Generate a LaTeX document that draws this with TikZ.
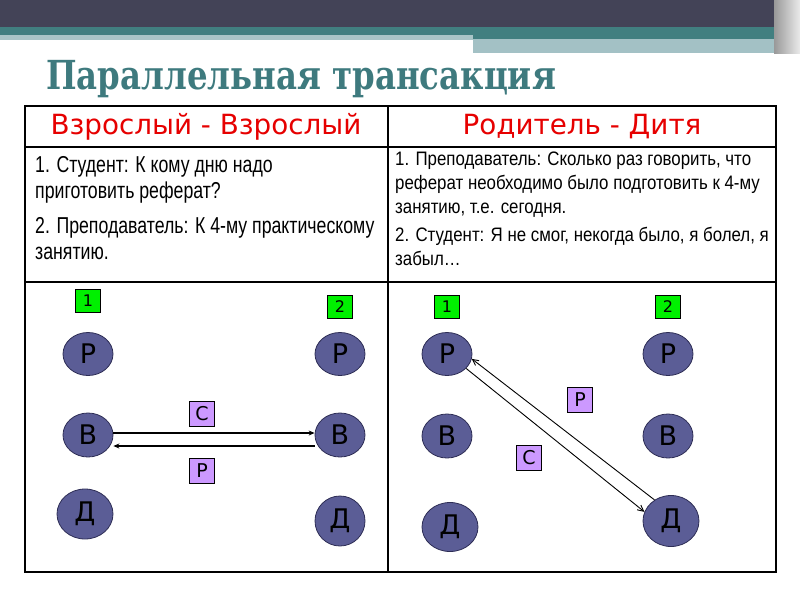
\documentclass[tikz,border=0pt]{standalone}
\usepackage{fontspec}
\setmainfont{DejaVu Sans}
\newfontfamily\bodyfont[FakeStretch=0.77]{Liberation Sans}
\newfontfamily\bodyfontwide[FakeStretch=0.865]{Liberation Sans}
\newfontfamily\titlefont[FakeStretch=0.81]{DejaVu Serif}
\usepackage{tikz}
\usetikzlibrary{arrows.meta, shapes.geometric}
\definecolor{bandDark}{HTML}{434357}
\definecolor{bandTeal}{HTML}{417F80}
\definecolor{bandLight}{HTML}{A3C1C5}
\definecolor{stripGrey}{HTML}{A9C5C7}
\definecolor{titleTeal}{HTML}{3E7A7E}
\definecolor{circleFill}{HTML}{5B5D96}
\definecolor{circleEdge}{HTML}{2D2D55}
\definecolor{greenBox}{HTML}{00F000}
\definecolor{violetBox}{HTML}{CC99FF}
\definecolor{redHead}{HTML}{E60000}

\begin{document}
\begin{tikzpicture}[x=1pt, y=-1pt,
    disc/.style={ellipse, draw=circleEdge, line width=0.8pt, fill=circleFill, inner sep=0pt,
                 font=\fontsize{27}{27}\selectfont},
    numbox/.style={draw, line width=0.8pt, fill=greenBox, minimum width=25pt, minimum height=23pt,
                 inner sep=0pt, font=\fontsize{16}{16}\selectfont},
    tagbox/.style={draw, line width=0.8pt, fill=violetBox, minimum width=25pt, minimum height=25pt,
                 inner sep=0pt, font=\fontsize{19}{19}\selectfont},
    headtxt/.style={text=redHead, inner sep=0pt, font=\fontsize{27.8}{28}\selectfont},
    grid/.style={line width=1.3pt},
    fwd/.style={line width=1.5pt, -{Stealth[length=6pt, width=5pt]}},
    diag/.style={line width=0.9pt, -{Straight Barb[length=6pt, width=6pt]}},
]
\useasboundingbox (0,0) rectangle (800,600);

% slide header band
\fill[bandDark] (0,0) rectangle (800,27);
\fill[bandTeal] (0,27) rectangle (800,35);
\fill[bandTeal] (473,35) rectangle (776,39);
\fill[stripGrey] (0,35) rectangle (473,40);
\fill[bandLight] (473,39) rectangle (776,53);
\shade[left color=black!40, right color=black!8] (774,0) rectangle (800,53);

\node[anchor=base west, inner sep=0pt, text=titleTeal,
      font=\titlefont\bfseries\fontsize{40}{44}\selectfont] (title) at (46,89) {Параллельная трансакция};

% table
\draw[grid] (25,106) rectangle (776,572);
\draw[grid] (25,147) -- (776,147);
\draw[grid] (25,282) -- (776,282);
\draw[grid] (388,106) -- (388,572);

\node[headtxt] (h1) at (206,127) {Взрослый - Взрослый};
\node[headtxt] (h2) at (582,127) {Родитель - Дитя};

\node[anchor=north west, inner sep=0pt, align=left,
      font=\bodyfont\fontsize{23}{26.5}\selectfont] (t1) at (35,156)
  {1. Студент: К кому дню надо\\приготовить реферат?\\[8pt]
   2. Преподаватель: К 4-му практическому\\занятию.};
\node[anchor=north west, inner sep=0pt, align=left,
      font=\bodyfontwide\fontsize{19.5}{24}\selectfont] (t2) at (395,152)
  {1. Преподаватель: Сколько раз говорить, что\\реферат необходимо было подготовить к 4-му\\занятию, т.е. сегодня.\\[4pt]
   2. Студент: Я не смог, некогда было, я болел, я\\забыл\ldots};

% ego states
\foreach \n/\x/\y/\w/\h/\t in {a1P/88/354/50/43/Р, a1B/88/435/50/44/В, a1D/85/514/56/50/Д,
                               a2P/340/354/50/43/Р, a2B/340/435/50/44/В, a2D/340/521/50/50/Д,
                               b1P/447/354/50/43/Р, b1B/447/436/50/44/В, b1D/450/527/56/49/Д,
                               b2P/668/354/50/43/Р, b2B/668/436/50/44/В, b2D/671/521/56/51/Д}{
  \node[disc, minimum width=\w pt, minimum height=\h pt] (\n) at (\x,\y) {\t};
}

\node[numbox] (n1) at (88,301) {1};
\node[numbox] (n2) at (340,307) {2};
\node[numbox] (n3) at (447,307) {1};
\node[numbox] (n4) at (668,307) {2};

\node[tagbox] (s1) at (202,414) {С};
\node[tagbox] (r1) at (202,471) {Р};
\node[tagbox] (r2) at (580,400) {Р};
\node[tagbox] (s2) at (529,458) {С};

\draw[fwd] ([yshift=2pt]a1B.east) -- ([yshift=2pt]a2B.west);
\draw[fwd] ([yshift=-11pt]a2B.west) -- ([yshift=-11pt]a1B.east);
\draw[diag] (b2D.128) -- (b1P.-11);
\draw[diag] (b1P.-37) -- (b2D.161);

\end{tikzpicture}
\end{document}
